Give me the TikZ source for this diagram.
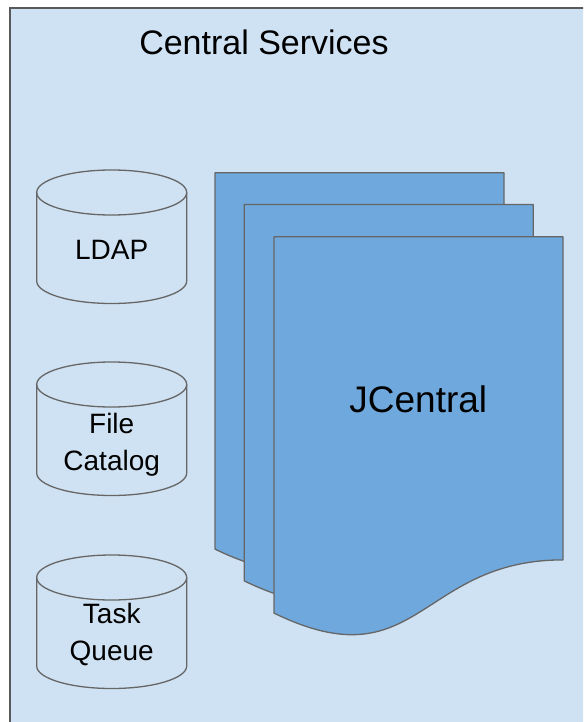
\documentclass[tikz,border=0pt]{standalone}
\usepackage{fontspec}
\setmainfont{Liberation Sans}
\definecolor{panelbg}{HTML}{CFE2F3}
\definecolor{docfill}{HTML}{6FA8DC}
\definecolor{edgegray}{HTML}{666666}
\definecolor{framegray}{HTML}{595959}
\tikzset{
  x=1pt, y=1pt,
  panel/.style={fill=panelbg, draw=framegray, line width=2pt},
  docshape/.style={fill=docfill, draw=edgegray, line width=1.3pt, line join=round},
  dbshape/.style={fill=panelbg, draw=edgegray, line width=1.3pt},
  dblabel/.style={anchor=base, inner sep=0pt, align=center,
    font=\fontsize{28}{36.7}\selectfont},
}
\newcommand{\docpage}[2]{% #1 = left x, #2 = top y (image coords)
  \path[docshape] (#1,-#2) -- ++(289,0) -- ++(0,-323.2)
    .. controls ++(-144.5,0) and ++(144.5,-70.2) .. ++(-289,-53.2) -- cycle;
}
\newcommand{\dbcylinder}[5]{% #1 center x, #2 top y, #3 node name, #4 last baseline offset, #5 text
  \begin{scope}[shift={(#1,-#2)}]
    \path[dbshape] (-75,-22.5) -- (-75,-111) arc (180:360:75 and 22.5)
      -- (75,-22.5) arc (0:180:75 and 22.5) -- cycle;
    \draw[edgegray, line width=1.3pt] (-75,-22.5) arc (180:360:75 and 22.5);
    \node[dblabel] (#3) at (0,-#4) {#5};
  \end{scope}
}
\begin{document}
\begin{tikzpicture}
  \useasboundingbox (0,0) rectangle (583,-722);
  \begin{scope}
    \clip (0,0) rectangle (583,-722);
    \fill[white] (0,0) rectangle (583,-722);
    \path[panel] (9.7,-7.8) rectangle (620,-760);
  \end{scope}
  \node[anchor=base, inner sep=0pt, font=\fontsize{34}{40}\selectfont] (title) at (264,-55) {Central Services};

  \docpage{215}{172.7}
  \docpage{244.3}{204.5}
  \docpage{274}{236.7}
  \node[anchor=base, inner sep=0pt, font=\fontsize{37}{42}\selectfont] (jcentral) at (418.3,-412.3) {JCentral};

  \dbcylinder{111.7}{170}{ldap}{89}{LDAP}
  \dbcylinder{111.7}{362}{filecat}{108}{File\\Catalog}
  \dbcylinder{111.7}{555}{taskq}{105}{Task\\Queue}
\end{tikzpicture}
\end{document}
